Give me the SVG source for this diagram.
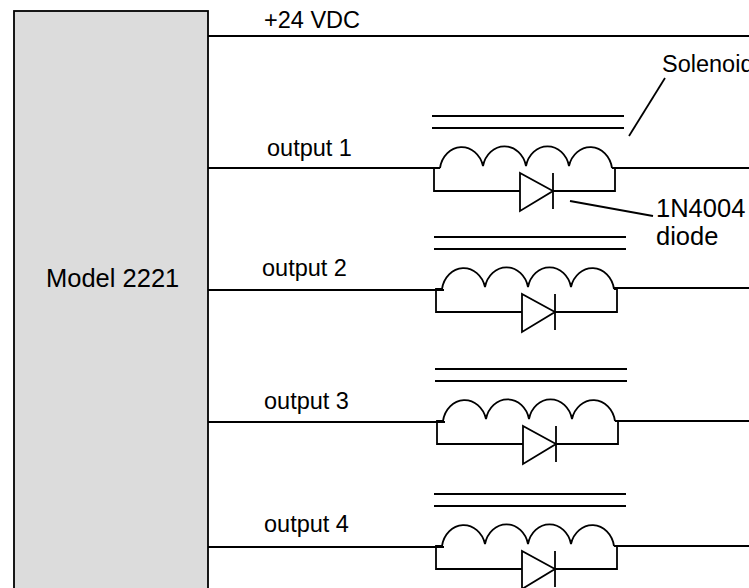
<svg xmlns="http://www.w3.org/2000/svg" width="749" height="588" viewBox="0 0 749 588">
  <style>
    .w { stroke: #000; stroke-width: 1.8; fill: none; }
    .t { font-family: "Liberation Sans", Arial, sans-serif; fill: #000; }
    .s { font-size: 23.5px; }
    .l { font-size: 25.5px; }
  </style>
  <defs>
    <g id="solenoid">
      <line class="w" x1="432" y1="116" x2="624" y2="116"/>
      <line class="w" x1="432" y1="128" x2="624" y2="128"/>
      <path class="w" d="M440,168 A22,25 0 0 1 483,166 A22,25 0 0 1 526,166 A22,25 0 0 1 569,166 A22,25 0 0 1 612,168"/>
      <path class="w" d="M440,168 L434,168 L434,191 L520,191"/>
      <path class="w" d="M612,168 L615,168 L615,191 L553,191"/>
      <path class="w" d="M520,173 L520,211 L553,191 Z"/>
      <line class="w" x1="553" y1="173" x2="553" y2="209"/>
    </g>
  </defs>

  <g id="model2221">
    <rect x="14" y="11" width="194" height="590" fill="#dcdcdc" stroke="#000" stroke-width="1.8"/>
    <text class="t l" x="46" y="287">Model 2221</text>
  </g>

  <g id="connectors">
    <line class="w" x1="208" y1="36" x2="749" y2="36"/>
    <line class="w" x1="208" y1="168" x2="440" y2="168"/>
    <line class="w" x1="612" y1="168" x2="749" y2="168"/>
    <line class="w" x1="208" y1="290" x2="444" y2="290"/>
    <line class="w" x1="614" y1="288" x2="749" y2="288"/>
    <line class="w" x1="208" y1="422" x2="445" y2="422"/>
    <line class="w" x1="615" y1="421" x2="749" y2="421"/>
    <line class="w" x1="208" y1="547" x2="444" y2="547"/>
    <line class="w" x1="614" y1="546" x2="749" y2="546"/>
    <line class="w" x1="665" y1="78" x2="629" y2="136"/>
    <line class="w" x1="570" y1="201" x2="653" y2="216"/>
  </g>

  <g id="labels">
    <text class="t s" x="264" y="28">+24 VDC</text>
    <text class="t s" x="267" y="156">output 1</text>
    <text class="t s" x="262" y="276">output 2</text>
    <text class="t s" x="264" y="409">output 3</text>
    <text class="t s" x="264" y="532">output 4</text>
    <text class="t s" x="662" y="72">Solenoid</text>
    <text class="t l" x="656" y="217">1N4004</text>
    <text class="t l" x="656" y="245">diode</text>
  </g>

  <g id="solenoid1"><use href="#solenoid"/></g>
  <g id="solenoid2"><use href="#solenoid" transform="translate(2,121)"/></g>
  <g id="solenoid3"><use href="#solenoid" transform="translate(3,253)"/></g>
  <g id="solenoid4"><use href="#solenoid" transform="translate(2,378)"/></g>
</svg>
